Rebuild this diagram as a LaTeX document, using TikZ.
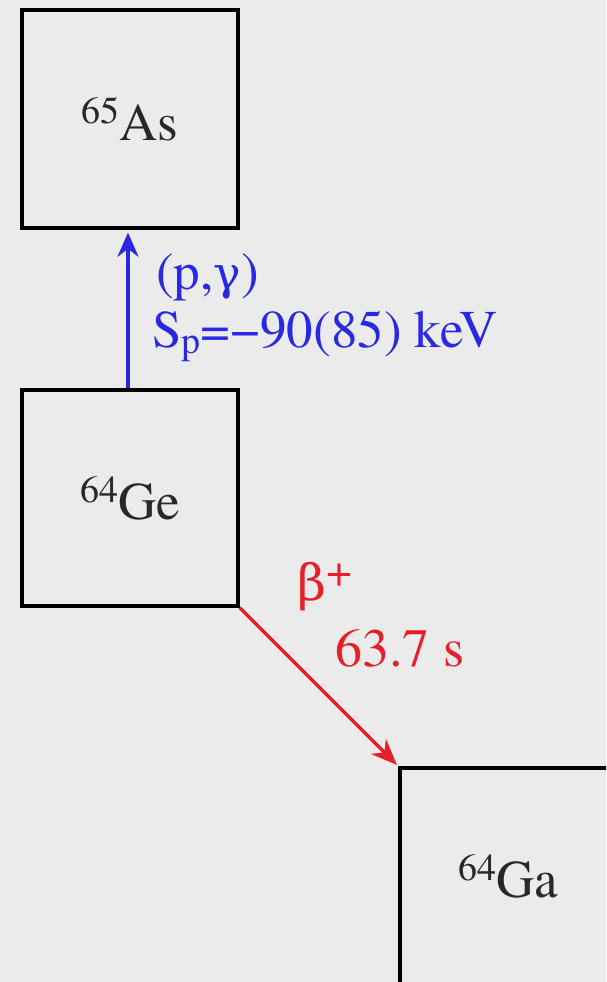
\documentclass[tikz,border=0pt]{standalone}
\usepackage{fontspec}
\setmainfont{texgyretermes}[Extension=.otf, UprightFont=*-regular, BoldFont=*-bold, ItalicFont=*-italic, BoldItalicFont=*-bolditalic]
\newfontfamily\grk{DejaVu Serif}
\usetikzlibrary{arrows.meta}
\definecolor{bgc}{RGB}{235,235,235}
\definecolor{bluec}{RGB}{40,40,230}
\definecolor{redc}{RGB}{232,30,40}
\definecolor{inkc}{RGB}{40,40,40}
\newcommand{\nuc}[2]{\raisebox{17pt}{\fontsize{38}{38}\selectfont #1}\fontsize{53}{53}\selectfont #2}
\begin{document}
\begin{tikzpicture}[x=1pt,y=-1pt,
  nucbox/.style={draw=black, line width=3.4pt, minimum width=216pt, minimum height=216pt, inner sep=0pt, text=inkc},
  bluetext/.style={font=\fontsize{53}{53}\selectfont, text=bluec, inner sep=0pt},
  redtext/.style={font=\fontsize{54}{54}\selectfont, text=redc, inner sep=0pt},
  bluearrow/.style={draw=bluec, line width=3.5pt, -{Stealth[length=24pt,width=21pt]}, shorten >=3pt},
  redarrow/.style={draw=redc, line width=3.5pt, -{Stealth[length=26pt,width=21pt]}, shorten >=2pt}]
\clip (0,0) rectangle (606,982);
\fill[bgc] (0,0) rectangle (606,982);
\node[nucbox, minimum height=218pt] (as) at (130,119) {\nuc{65}{As}};
\node[nucbox] (ge) at (130,498) {\nuc{64}{Ge}};
\node[nucbox] (ga) at (508,876) {\nuc{64}{Ga}};
\draw[bluearrow] ([xshift=-2pt]ge.north) -- ([xshift=-2pt]as.south);
\draw[redarrow] (ge.south east) -- (ga.north west);
\node[bluetext, anchor=base west] (pg) at (156,289) {(p,{\grk\fontsize{46}{46}\selectfont γ})};
\node[bluetext, anchor=base west] (sp) at (152,347) {S\raisebox{-6pt}{\fontsize{38}{38}\selectfont p}=−90(85) keV};
\node[redtext, anchor=base west] (beta) at (297,600) {{\grk\fontsize{50}{50}\selectfont β}\raisebox{14pt}{\fontsize{46}{46}\selectfont +}};
\node[redtext, anchor=base west] (hl) at (335,666) {63.7 s};
\end{tikzpicture}
\end{document}
